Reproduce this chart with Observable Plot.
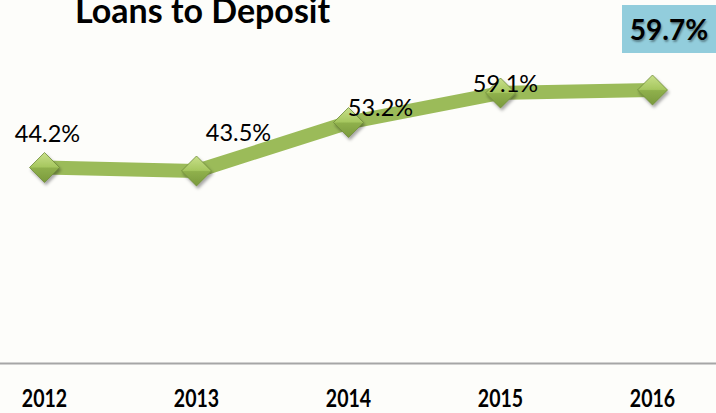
<!DOCTYPE html>
<html>
<head>
<meta charset="utf-8">
<script src="https://cdn.jsdelivr.net/npm/d3@7"></script>
<script src="https://cdn.jsdelivr.net/npm/@observablehq/plot@0.6"></script>
<style>
  html, body { margin: 0; padding: 0; background: #fdfdfa; overflow: hidden; }
  #wrap { position: relative; width: 716px; height: 413px; overflow: hidden; font-family: Lato, "Open Sans", sans-serif; }
  #wrap svg { position: absolute; left: 0; top: 0; }
  #title { position: absolute; left: 75px; top: 0px; font-size: 34px; font-weight: bold; color: #000; line-height: 19px; white-space: nowrap; z-index: 2; }
  #box { position: absolute; left: 622px; top: 5px; width: 94px; height: 48px; background: #92cddc; color: #000;
         font-size: 28px; font-weight: bold; display: flex; align-items: center; justify-content: center;
         text-shadow: 1px 2px 2px rgba(0,0,0,0.35); z-index: 2; }
  g[aria-label="x-axis tick label"] text { font-weight: bold; }
</style>
</head>
<body>
<div id="wrap">
  <div id="title"></div>
  <div id="box"></div>
</div>
<script>
const chartTitle = "Loans to Deposit";
const years = ["2012", "2013", "2014", "2015", "2016"];
const ratios = [44.2, 43.5, 53.2, 59.1, 59.7];
const yDomain = [5, 77];

const data = years.map((y, i) => ({year: y, value: ratios[i]}));
const fmt = d => d.value.toFixed(1) + "%";

document.getElementById("title").textContent = chartTitle;
document.getElementById("box").textContent = fmt(data[data.length - 1]);

const labelText = (yr, dx, dy) => Plot.text(data, {
  filter: d => d.year === yr, x: "year", y: "value", text: fmt,
  dx, dy, fontSize: 23.5, fill: "#000"
});

const chart = Plot.plot({
  width: 716, height: 413,
  marginTop: 3, marginBottom: 50, marginLeft: 0, marginRight: 0,
  style: {background: "transparent", fontFamily: "Lato, 'Open Sans', sans-serif", overflow: "visible"},
  x: {type: "point", domain: years, padding: 0, insetLeft: 42, insetRight: 63, label: null},
  y: {domain: yDomain, axis: null},
  marks: [
    Plot.ruleY([yDomain[0]], {stroke: "#a6a6a6", strokeWidth: 2}),
    Plot.axisX({tickSize: 0, tickPadding: 26, fontSize: 25, fontWeight: "bold", label: null, fill: "#000"}),
    Plot.line(data, {x: "year", y: "value", stroke: "#9bbb59", strokeWidth: 14, strokeLinejoin: "round"}),
    Plot.dot(data, {x: "year", y: "value", symbol: "diamond2", r: 13.5, fill: "url(#dgrad)",
                    stroke: "#6f8c38", strokeWidth: 0.8}),
    labelText("2012", 3, -33),
    labelText("2013", 42, -38),
    labelText("2014", 32, -14),
    labelText("2015", 5, -9)
  ]
});

const svg = d3.select(chart);

// gradient + shadow defs for the diamond markers
const defs = svg.insert("defs", ":first-child");
const g = defs.append("linearGradient").attr("id", "dgrad").attr("x1", 0).attr("y1", 0).attr("x2", 0).attr("y2", 1);
g.append("stop").attr("offset", "0%").attr("stop-color", "#c9e08a");
g.append("stop").attr("offset", "48%").attr("stop-color", "#a6c75f");
g.append("stop").attr("offset", "52%").attr("stop-color", "#8fb04c");
g.append("stop").attr("offset", "100%").attr("stop-color", "#7a9a3c");
const f = defs.append("filter").attr("id", "dshadow").attr("x", "-50%").attr("y", "-50%").attr("width", "200%").attr("height", "200%");
f.append("feDropShadow").attr("dx", 1.5).attr("dy", 2.5).attr("stdDeviation", 1.5).attr("flood-color", "#000").attr("flood-opacity", 0.35);
svg.selectAll("g[aria-label='dot'] path").attr("filter", "url(#dshadow)");

document.getElementById("wrap").appendChild(chart);

// condensed look for the bold year labels
svg.selectAll("g[aria-label='x-axis tick label'] text").each(function() {
  const len = this.getComputedTextLength();
  this.setAttribute("textLength", (len * 0.78).toFixed(1));
  this.setAttribute("lengthAdjust", "spacingAndGlyphs");
});
</script>
</body>
</html>
